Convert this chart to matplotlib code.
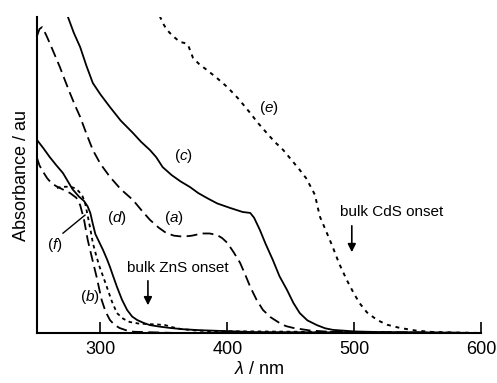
import matplotlib
matplotlib.use("Agg")
import matplotlib.pyplot as plt

plt.rcParams['font.family'] = ['Liberation Sans', 'DejaVu Sans']
plt.rcParams['mathtext.fontset'] = 'custom'
plt.rcParams['mathtext.rm'] = 'Liberation Sans'
plt.rcParams['mathtext.it'] = 'Liberation Sans:italic'

# spectra (wavelength nm, absorbance au)
wl_a = [250, 252, 254, 257, 260, 264, 268, 272, 276, 280, 284, 289, 294, 300, 307.5, 316, 325.6, 332, 339, 346,
        352, 358, 365, 372, 380, 386, 392, 396, 400, 405, 410, 414, 418, 423, 428, 434, 441, 446, 452, 465, 480, 600]
ab_a = [0.94, 0.962, 0.968, 0.945, 0.918, 0.88, 0.842, 0.80, 0.759, 0.72, 0.684, 0.63, 0.579, 0.535, 0.494, 0.455,
        0.421, 0.39, 0.358, 0.333, 0.316, 0.308, 0.305, 0.308, 0.315, 0.315, 0.310, 0.30, 0.285, 0.255, 0.222,
        0.185, 0.146, 0.105, 0.073, 0.05, 0.032, 0.022, 0.016, 0.008, 0.004, 0.0]

wl_b = [250, 252, 255, 258, 261, 265, 270, 276, 281, 284, 287, 290, 293.5, 297, 299, 301, 304, 307.5, 311, 315,
        320, 326, 360, 600]
ab_b = [0.554, 0.53, 0.509, 0.49, 0.476, 0.465, 0.455, 0.443, 0.428, 0.405, 0.36, 0.294, 0.235, 0.177, 0.14,
        0.104, 0.068, 0.041, 0.026, 0.016, 0.009, 0.004, 0.0, 0.0]

wl_c = [272, 274.4, 279, 284, 289, 294, 300, 307.5, 316, 325.6, 332, 339, 344, 349, 356, 363, 370.5, 377, 384, 392,
        402, 412, 418, 421, 425.6, 430, 435.8, 441, 447, 452, 457, 463, 470.5, 477, 483, 500, 520, 600]
ab_c = [1.03, 1.0, 0.95, 0.905, 0.845, 0.791, 0.755, 0.715, 0.672, 0.633, 0.605, 0.579, 0.556, 0.525, 0.50, 0.48,
        0.462, 0.443, 0.427, 0.41, 0.396, 0.383, 0.380, 0.365, 0.326, 0.283, 0.231, 0.18, 0.136, 0.095, 0.063,
        0.04, 0.025, 0.015, 0.010, 0.005, 0.003, 0.0]

wl_d = [250, 255, 260, 265, 270.5, 278, 283, 287, 290, 292, 294, 296, 299, 302, 305, 307.5, 310, 313, 317, 321,
        325, 329, 334, 339, 347, 355, 365, 378, 420, 600]
ab_d = [0.611, 0.585, 0.557, 0.532, 0.506, 0.455, 0.432, 0.418, 0.40, 0.38, 0.345, 0.313, 0.288, 0.263, 0.235,
        0.209, 0.18, 0.146, 0.105, 0.073, 0.052, 0.041, 0.032, 0.025, 0.02, 0.016, 0.012, 0.009, 0.003, 0.0]

wl_e = [345, 347, 350, 352.4, 357, 362.6, 366, 369, 371, 373, 378, 384, 392, 400, 409, 418, 424, 431, 437, 444,
        450, 457, 462, 466, 469, 471, 473, 478, 483, 488, 494, 499, 504, 510, 518, 526, 536, 548, 562, 600]
ab_e = [1.03, 1.0, 0.975, 0.959, 0.94, 0.921, 0.918, 0.912, 0.89, 0.870, 0.85, 0.832, 0.806, 0.778, 0.74, 0.696,
        0.665, 0.633, 0.606, 0.579, 0.55, 0.516, 0.49, 0.46, 0.437, 0.40, 0.367, 0.32, 0.272, 0.22, 0.168, 0.13,
        0.095, 0.065, 0.041, 0.026, 0.016, 0.008, 0.003, 0.0]

wl_f = [265.7, 269, 273, 277, 280, 283, 286, 288, 290, 292, 294, 297, 299.6, 302, 305, 309, 313, 318, 323, 330,
        339, 345, 351, 357, 363, 375, 386, 600]
ab_f = [0.459, 0.462, 0.463, 0.462, 0.458, 0.448, 0.432, 0.41, 0.37, 0.33, 0.285, 0.24, 0.206, 0.18, 0.146, 0.10,
        0.063, 0.045, 0.035, 0.03, 0.028, 0.027, 0.025, 0.018, 0.013, 0.008, 0.006, 0.0]

fig = plt.figure(figsize=(4.97, 3.83), dpi=100)
ax = fig.add_axes([0.0744, 0.1305, 0.894, 0.8251])

ax.plot(wl_c, ab_c, color='black', lw=1.3)
ax.plot(wl_d, ab_d, color='black', lw=1.3)
ax.plot(wl_a, ab_a, color='black', lw=1.3, dashes=(6, 3))
ax.plot(wl_b, ab_b, color='black', lw=1.3, dashes=(6, 3))
ax.plot(wl_e, ab_e, color='black', lw=1.4, dashes=(2, 2.5))
ax.plot(wl_f, ab_f, color='black', lw=1.3, dashes=(2, 2))

ax.set_xlim(250, 600)
ax.set_ylim(0, 1)
ax.set_xticks([300, 400, 500, 600])
ax.set_yticks([])
ax.tick_params(axis='x', direction='in', length=8, width=1.2, labelsize=13, pad=6)
ax.spines['top'].set_visible(False)
ax.spines['right'].set_visible(False)
ax.spines['left'].set_linewidth(1.5)
ax.spines['bottom'].set_linewidth(1.5)

ax.set_xlabel(r'$\lambda$ / nm', fontsize=13, labelpad=2)
ax.set_ylabel('Absorbance / au', fontsize=13, labelpad=5)

fs = 11
for x, y, s in [(365, 0.56, 'c'), (432.7, 0.712, 'e'), (357.9, 0.364, 'a'),
                (313, 0.364, 'd'), (264, 0.278, 'f'), (291.7, 0.114, 'b')]:
    ax.text(x, y, '(' + r'$\it{' + s + '}$' + ')', fontsize=fs, ha='center', va='center')

ax.plot([270.5, 287.8], [0.316, 0.373], color='black', lw=1)

ax.text(360.6, 0.206, 'bulk ZnS onset', fontsize=fs, ha='center', va='center')
ax.annotate('', xy=(337.4, 0.079), xytext=(337.4, 0.174),
            arrowprops=dict(arrowstyle='-|>', color='black', lw=1.2, mutation_scale=12))
ax.text(529.5, 0.383, 'bulk CdS onset', fontsize=fs, ha='center', va='center')
ax.annotate('', xy=(498, 0.247), xytext=(498, 0.348),
            arrowprops=dict(arrowstyle='-|>', color='black', lw=1.2, mutation_scale=12))

fig.savefig('out.png', dpi=100)
